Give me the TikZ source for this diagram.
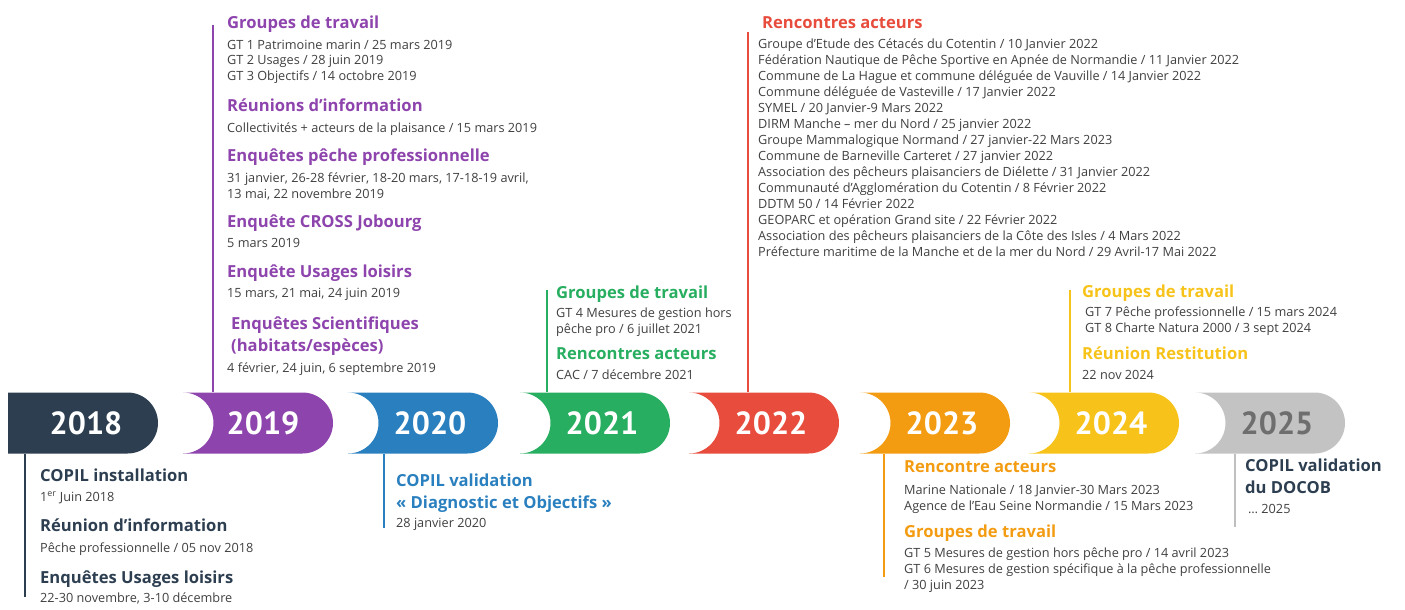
\documentclass[tikz,border=0pt]{standalone}
\usepackage{fontspec}
\setmainfont{Open Sans}
\newfontfamily\yearfont{PT Sans}
\usepackage{tikz}
\definecolor{c2018}{HTML}{2C3E50}
\definecolor{c2019}{HTML}{8E44AD}
\definecolor{c2020}{HTML}{2A80BF}
\definecolor{c2021}{HTML}{27AE60}
\definecolor{c2022}{HTML}{E74C3C}
\definecolor{c2023}{HTML}{F39C12}
\definecolor{c2024}{HTML}{F7C31A}
\definecolor{c2025}{HTML}{C3C3C3}
\definecolor{txt}{HTML}{404040}

\begin{document}
\begin{tikzpicture}[x=1pt,y=-1pt,
  head/.style={anchor=base west,inner sep=0pt,align=left,font=\bfseries\fontsize{16.6}{22}\selectfont},
  body/.style={anchor=base west,inner sep=0pt,align=left,text=txt,font=\fontsize{12.7}{16}\selectfont},
  year/.style={inner sep=0pt,minimum height=61pt,text=white,font=\yearfont\bfseries\fontsize{32}{32}\selectfont},
  link/.style={line width=2.5pt}]
\useasboundingbox (0,0) rectangle (1405,610);

\fill[c2018] (8,392.5) -- (127.5,392.5) arc[start angle=-90,end angle=90,radius=30.5] -- (8,453.5) -- cycle;
\fill[c2019] (183,392.5) -- (302.5,392.5) arc[start angle=-90,end angle=90,radius=30.5] -- (183,453.5) arc[start angle=90,end angle=-90,radius=30.5] -- cycle;
\fill[c2020] (348,392.5) -- (467.5,392.5) arc[start angle=-90,end angle=90,radius=30.5] -- (348,453.5) arc[start angle=90,end angle=-90,radius=30.5] -- cycle;
\fill[c2021] (520,392.5) -- (639.5,392.5) arc[start angle=-90,end angle=90,radius=30.5] -- (520,453.5) arc[start angle=90,end angle=-90,radius=30.5] -- cycle;
\fill[c2022] (689,392.5) -- (808.5,392.5) arc[start angle=-90,end angle=90,radius=30.5] -- (689,453.5) arc[start angle=90,end angle=-90,radius=30.5] -- cycle;
\fill[c2023] (860,392.5) -- (979.5,392.5) arc[start angle=-90,end angle=90,radius=30.5] -- (860,453.5) arc[start angle=90,end angle=-90,radius=30.5] -- cycle;
\fill[c2024] (1029,392.5) -- (1148.5,392.5) arc[start angle=-90,end angle=90,radius=30.5] -- (1029,453.5) arc[start angle=90,end angle=-90,radius=30.5] -- cycle;
\fill[c2025] (1195,392.5) -- (1314.5,392.5) arc[start angle=-90,end angle=90,radius=30.5] -- (1195,453.5) arc[start angle=90,end angle=-90,radius=30.5] -- cycle;

\path (86,423) node[year](y2018){2018} (263,423) node[year](y2019){2019}
  (430,423) node[year](y2020){2020} (602,423) node[year](y2021){2021}
  (771,423) node[year](y2022){2022} (942,423) node[year](y2023){2023}
  (1111,423) node[year](y2024){2024} (1277,423) node[year,text=black!57](y2025){2025};

\path (25,597) coordinate(e2018) (213,25) coordinate(e2019) (384,528) coordinate(e2020)
  (547,290) coordinate(e2021) (748,32) coordinate(e2022) (884,577) coordinate(e2023)
  (1070,290) coordinate(e2024) (1235,527) coordinate(e2025);

\draw[link,c2018] (e2018 |- y2018.south) -- (e2018);
\draw[link,c2019] (e2019) -- (e2019 |- y2019.north);
\draw[link,c2020] (e2020 |- y2020.south) -- (e2020);
\draw[link,c2021] (e2021) -- (e2021 |- y2021.north);
\draw[link,c2022] (e2022) -- (e2022 |- y2022.north);
\draw[link,c2023] (e2023 |- y2023.south) -- (e2023);
\draw[link,c2024] (e2024) -- (e2024 |- y2024.north);
\draw[link,c2025,draw=black!25] (e2025 |- y2025.south) -- (e2025);

\path[text=c2018] (40,481) node[head](h2018a){COPIL installation}
  (40,531) node[head](h2018b){Réunion d’information}
  (40,583) node[head](h2018c){Enquêtes Usages loisirs};
\path (40,501) node[body](b2018a){1\textsuperscript{er} Juin 2018}
  (40,552) node[body](b2018b){Pêche professionnelle / 05 nov 2018}
  (40,602) node[body](b2018c){22-30 novembre, 3-10 décembre};

\path[text=c2019] (227,29) node[head](h2019a){Groupes de travail}
  (227,111) node[head](h2019b){Réunions d’information}
  (227,161) node[head](h2019c){Enquêtes pêche professionnelle}
  (227,227) node[head](h2019d){Enquête CROSS Jobourg}
  (227,277) node[head](h2019e){Enquête Usages loisirs}
  (231,351) node[head](h2019f){Enquêtes Scientifiques\\(habitats/espèces)};
\path (227,81) node[body](b2019a){GT 1 Patrimoine marin / 25 mars 2019\\GT 2 Usages / 28 juin 2019\\GT 3 Objectifs / 14 octobre 2019}
  (227,132) node[body](b2019b){Collectivités + acteurs de la plaisance / 15 mars 2019}
  (227,198) node[body](b2019c){31 janvier, 26-28 février, 18-20 mars, 17-18-19 avril,\\13 mai, 22 novembre 2019}
  (227,247) node[body](b2019d){5 mars 2019}
  (227,297) node[body](b2019e){15 mars, 21 mai, 24 juin 2019}
  (227,372) node[body](b2019f){4 février, 24 juin, 6 septembre 2019};

\path[text=c2020] (396,508) node[head](h2020a){COPIL validation\\« Diagnostic et Objectifs »};
\path (396,527) node[body](b2020a){28 janvier 2020};

\path[text=c2021] (556,298) node[head](h2021a){Groupes de travail}
  (556,359) node[head](h2021b){Rencontres acteurs};
\path (556,333) node[body](b2021a){GT 4 Mesures de gestion hors\\pêche pro / 6 juillet 2021}
  (556,379) node[body](b2021b){CAC / 7 décembre 2021};

\path[text=c2022] (762,29) node[head](h2022a){Rencontres acteurs};
\path (758,256) node[body](b2022a){Groupe d’Etude des Cétacés du Cotentin / 10 Janvier 2022\\
  Fédération Nautique de Pêche Sportive en Apnée de Normandie / 11 Janvier 2022\\
  Commune de La Hague et commune déléguée de Vauville / 14 Janvier 2022\\
  Commune déléguée de Vasteville / 17 Janvier 2022\\
  SYMEL / 20 Janvier-9 Mars 2022\\
  DIRM Manche – mer du Nord / 25 janvier 2022\\
  Groupe Mammalogique Normand / 27 janvier-22 Mars 2023\\
  Commune de Barneville Carteret / 27 janvier 2022\\
  Association des pêcheurs plaisanciers de Diélette / 31 Janvier 2022\\
  Communauté d’Agglomération du Cotentin / 8 Février 2022\\
  DDTM 50 / 14 Février 2022\\
  GEOPARC et opération Grand site / 22 Février 2022\\
  Association des pêcheurs plaisanciers de la Côte des Isles / 4 Mars 2022\\
  Préfecture maritime de la Manche et de la mer du Nord / 29 Avril-17 Mai 2022};

\path[text=c2023] (904,472) node[head](h2023a){Rencontre acteurs}
  (904,537) node[head](h2023b){Groupes de travail};
\path (904,510) node[body](b2023a){Marine Nationale / 18 Janvier-30 Mars 2023\\Agence de l’Eau Seine Normandie / 15 Mars 2023}
  (904,589) node[body](b2023b){GT 5 Mesures de gestion hors pêche pro / 14 avril 2023\\GT 6 Mesures de gestion spécifique à la pêche professionnelle\\/ 30 juin 2023};

\path[text=c2024] (1082,297) node[head](h2024a){Groupes de travail}
  (1082,359) node[head](h2024b){Réunion Restitution};
\path (1085,332) node[body](b2024a){GT 7 Pêche professionnelle / 15 mars 2024\\GT 8 Charte Natura 2000 / 3 sept 2024}
  (1082,379) node[body](b2024b){22 nov 2024};

\path[text=c2018] (1245,493) node[head](h2025a){COPIL validation\\du DOCOB};
\path (1248,513) node[body](b2025a){… 2025};
\end{tikzpicture}
\end{document}
